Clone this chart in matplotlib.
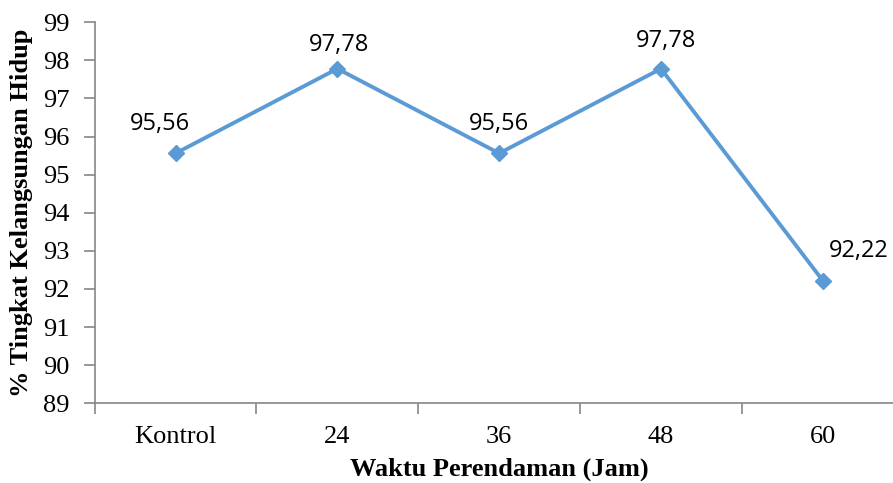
import matplotlib.pyplot as plt
from matplotlib.ticker import FixedLocator, NullFormatter

categories = ['Kontrol', '24', '36', '48', '60']
survival = [95.56, 97.78, 95.56, 97.78, 92.22]
value_labels = ['95,56', '97,78', '95,56', '97,78', '92,22']

# label offsets in points (x, y) relative to each marker
label_offsets = [(-11, 21), (1, 17), (0, 21), (4, 20), (26, 21)]

line_color = '#5B9BD5'
axis_color = '#868686'
serif = 'Liberation Serif'

fig = plt.figure(figsize=(8.93, 4.83), dpi=100)
ax = fig.add_axes([0.106, 0.165, 0.906, 0.789])

x = list(range(len(categories)))
ax.plot(x, survival, color=line_color, linewidth=2.8, marker='D',
        markersize=8, markeredgecolor=line_color, zorder=3)

for xi, yi, txt, off in zip(x, survival, value_labels, label_offsets):
    ax.annotate(txt, (xi, yi), xytext=off, textcoords='offset points',
                ha='center', va='center', fontsize=17, family='Open Sans',
                color='black')

ax.set_xlim(-0.5, len(categories) - 0.5)
ax.set_ylim(89, 99)
ax.set_yticks(range(89, 100))
ax.set_yticklabels([str(v) for v in range(89, 100)], family=serif, fontsize=19)

# category boundaries get the tick marks, labels sit in the middle
ax.xaxis.set_major_locator(FixedLocator([i - 0.5 for i in range(len(categories) + 1)]))
ax.xaxis.set_major_formatter(NullFormatter())
ax.set_xticks(x, minor=True)
ax.set_xticklabels(categories, minor=True, family=serif, fontsize=19)
ax.tick_params(axis='x', which='minor', length=0, pad=16)
ax.tick_params(axis='x', which='major', length=8, width=1.2, color=axis_color, direction='out')
ax.tick_params(axis='y', length=8, width=1.2, color=axis_color, direction='out', pad=10)

for side in ['top', 'right']:
    ax.spines[side].set_visible(False)
for side in ['left', 'bottom']:
    ax.spines[side].set_color(axis_color)
    ax.spines[side].set_linewidth(1.2)

ax.set_xlabel('Waktu Perendaman (Jam)', family=serif, fontsize=19,
              fontweight='bold', labelpad=7)
ax.set_ylabel('% Tingkat Kelangsungan Hidup', family=serif, fontsize=19,
              fontweight='bold', labelpad=7)

fig.savefig('out.png', dpi=100)
